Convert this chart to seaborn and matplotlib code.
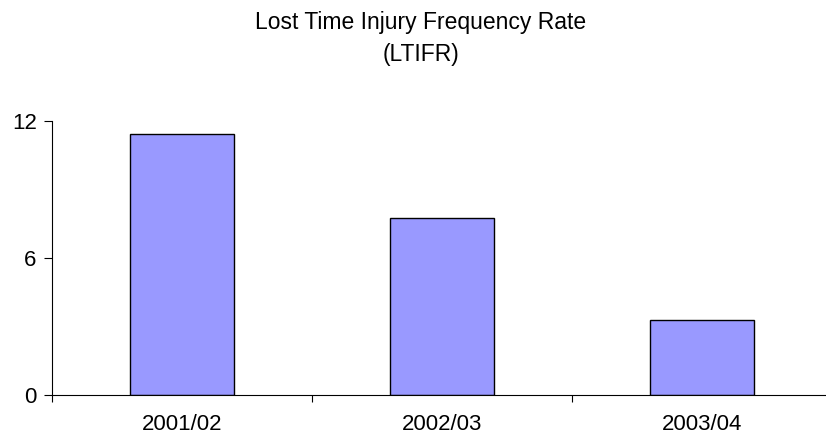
import matplotlib
matplotlib.use("Agg")
import matplotlib.pyplot as plt
from matplotlib.ticker import FixedLocator
import seaborn as sns
import pandas as pd

years = ["2001/02", "2002/03", "2003/04"]
ltifr = [11.43, 7.74, 3.29]
yticks = [0, 6, 12]

sns.set_style("white")
plt.rcParams["font.family"] = ["Liberation Sans", "DejaVu Sans"]
plt.rcParams["text.color"] = "black"
plt.rcParams["xtick.color"] = "black"
plt.rcParams["ytick.color"] = "black"

df = pd.DataFrame({"year": years, "ltifr": ltifr})

fig = plt.figure(figsize=(8.26, 4.38), dpi=100)
ax = fig.add_axes([52 / 826, 1 - 395 / 438, 780 / 826, 274 / 438])
sns.barplot(data=df, x="year", y="ltifr", color="#9999FF", saturation=1,
            width=0.4, edgecolor="black", linewidth=1, ax=ax)

ax.set_xlim(-0.5, 2.5)
ax.set_ylim(0, 12)
ax.set_yticks(yticks)
ax.set_yticklabels([str(v) for v in yticks], fontsize=16)
ax.set_xticks(range(len(years)))
ax.set_xticklabels(years, fontsize=16)
ax.xaxis.set_minor_locator(FixedLocator([-0.5, 0.5, 1.5, 2.5]))
ax.tick_params(axis="x", which="major", bottom=True, length=0, pad=14, labelcolor="black")
ax.tick_params(axis="x", which="minor", bottom=True, length=5, width=0.8, color="black", direction="out")
ax.tick_params(axis="y", which="major", left=True, length=6, width=0.8, color="black",
               direction="out", pad=5, labelcolor="black")
ax.set_xlabel("")
ax.set_ylabel("")
for s in ["top", "right"]:
    ax.spines[s].set_visible(False)
for s in ["left", "bottom"]:
    ax.spines[s].set_color("black")
    ax.spines[s].set_linewidth(0.8)

fig.text(421 / 826, 1 - 22 / 438, "Lost Time Injury Frequency Rate", ha="center", va="center", fontsize=16.5)
fig.text(421 / 826, 1 - 55 / 438, "(LTIFR)", ha="center", va="center", fontsize=16.5)

fig.savefig("out.png", dpi=100)
